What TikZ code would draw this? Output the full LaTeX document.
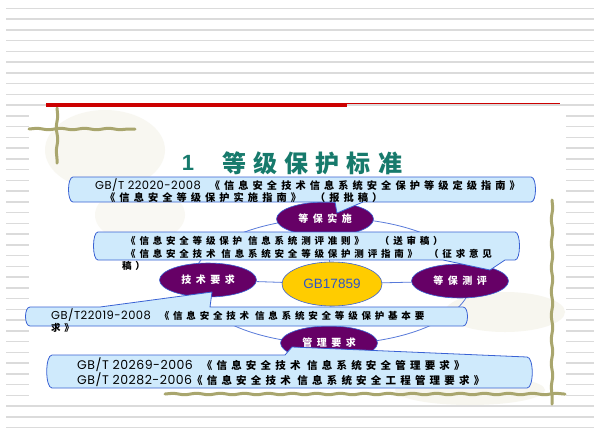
\documentclass[tikz,border=0pt]{standalone}
\usepackage{fontspec}
\setmainfont{Liberation Sans}
\newfontfamily\zhf[LetterSpace=40]{Noto Sans CJK SC}
\newfontfamily\zhb[LetterSpace=45]{Noto Sans CJK SC}
\newfontfamily\zhtitle[LetterSpace=30]{Noto Sans CJK SC}
\newfontfamily\geof[LetterSpace=4]{Poppins}
\usetikzlibrary{shapes.geometric}
\usetikzlibrary{decorations.pathmorphing}
\usetikzlibrary{positioning}

\definecolor{plum}{HTML}{660066}
\definecolor{callfill}{HTML}{CFEAFC}
\definecolor{callline}{HTML}{3A62D4}
\definecolor{titleteal}{HTML}{177A6C}
\definecolor{stdyel}{HTML}{FFCC00}
\definecolor{stdtxt}{HTML}{2E55C6}
\definecolor{bamboo}{HTML}{A9A66E}
\definecolor{redbar}{HTML}{CC0000}
\definecolor{wash}{HTML}{E9E6D2}

% latin part of a standard number
\newcommand{\gbno}[2][11.5]{{\mdseries\geof\fontsize{#1}{12}\selectfont #2}}

\tikzset{
  bgline/.style={draw=gray!28, line width=1.6pt},
  stick/.style={draw=bamboo, line width=3pt, line cap=round, decorate,
    decoration={snake, segment length=24pt, amplitude=0.7pt}},
  topic/.style={ellipse, draw=callline, line width=0.6pt, fill=plum, text=white,
    font=\zhb\bfseries\fontsize{10}{12}\selectfont,
    minimum width=97pt, minimum height=34pt, inner sep=0pt},
  ringline/.style={draw=callline!85, line width=0.8pt},
  callbox/.style={draw=callline, line width=0.8pt, fill=callfill},
  calltext/.style={anchor=west, inner sep=0pt, align=left, text=black},
}

\begin{document}
\begin{tikzpicture}[x=1pt,y=-1pt]
  \useasboundingbox (0,0) rectangle (594,437);

  % ruled page background
  \foreach \k in {0,...,39}
    \draw[bgline] (6,8.3+10.75*\k) -- (594,8.3+10.75*\k);

  % slide panel
  \fill[white] (29,108) rectangle (566,405);
  \fill[wash, opacity=0.3] (105,150) ellipse [x radius=60, y radius=40];
  \fill[wash, opacity=0.25] (140,215) ellipse [x radius=45, y radius=28];
  \fill[wash, opacity=0.35] (505,312) ellipse [x radius=60, y radius=20];
  \fill[wash, opacity=0.35] (470,390) ellipse [x radius=75, y radius=15];

  % bamboo frame
  \draw[stick] (57,108) -- (57,163);
  \draw[stick] (29,129) -- (135,129);
  \draw[stick] (552,200) -- (552,404);
  \draw[stick] (165,394) -- (565,394);

  % header bar
  \fill[redbar] (46,103) rectangle (347,107);
  \draw[redbar, line width=0.8pt] (347,103.5) -- (560,103.5);

  % title
  \node[text=titleteal, font=\bfseries\fontsize{22}{24}\selectfont] (num) at (188,163) {1};
  \node[anchor=west, inner sep=0pt, text=titleteal,
        font=\zhtitle\bfseries\fontsize{24}{26}\selectfont] (ttl) at (222,163) {等级保护标准};

  % ring through the four topics
  \draw[ringline] (332,281) ellipse [x radius=139, y radius=63];

  % centre standard and topics
  \node[ellipse, draw=callline, line width=0.6pt, fill=stdyel, text=stdtxt,
        minimum width=100pt, minimum height=44pt, inner sep=0pt,
        font=\fontsize{13.5}{15}\selectfont] (std) at (332,284) {GB17859};
  \node[topic] (shi) at (325,219) {等保实施};
  \node[topic] (jishu) at (208,280) {技术要求};
  \node[topic] (ceping) at (460,281) {等保测评};
  \node[topic] (guanli) at (329,343) {管理要求};

  \draw[ringline] (std) -- (shi);
  \draw[ringline] (std) -- (jishu);
  \draw[ringline] (std) -- (ceping);
  \draw[ringline] (std) -- (guanli);

  % callout tips
  \coordinate (tip1) at (337,213);
  \coordinate (tip2) at (490,270);
  \coordinate (tip3) at (212,292);
  \coordinate (tip4) at (292,347);

  % callout 1
  \draw[callbox] (73,177) -- (531,177) .. controls (537,177) and (537,202) .. (531,202)
    -- (363,202) -- (tip1) -- (335,202) -- (73,202) .. controls (67,202) and (67,177) .. cycle;
  \node[calltext, font=\zhf\bfseries\fontsize{10.2}{10.5}\selectfont] (c1) at (95,191)
    {\gbno{GB/T 22020-2008}\hspace{9pt}《信息安全技术信息系统安全保护等级定级指南》\\
     \hspace*{10pt}《信息安全等级保护实施指南》\hspace{14pt}（报批稿）};

  % callout 2
  \draw[callbox] (98,232) -- (515,232) .. controls (521,232) and (521,260) .. (515,260)
    -- (505,260) -- (tip2) -- (443,260) -- (98,260) .. controls (92,260) and (92,232) .. cycle;
  \node[calltext, font=\zhf\bfseries\fontsize{9.5}{12.5}\selectfont] (c2) at (122,253.5)
    {\hspace*{4pt}《信息安全等级保护 信息系统测评准则》\hspace{16pt}（送审稿）\\
     \hspace*{4pt}《信息安全技术 信息系统安全等级保护测评指南》\hspace{12pt}（征求意见\\
     稿）};

  % callout 3
  \draw[callbox] (30,307) -- (100,307) -- (tip3) -- (210,307) -- (463,307)
    .. controls (469,307) and (469,326) .. (463,326) -- (30,326)
    .. controls (24,326) and (24,307) .. cycle;
  \node[calltext, font=\zhf\bfseries\fontsize{9.5}{12}\selectfont] (c3) at (51,321)
    {\gbno{GB/T22019-2008}\hspace{9pt}《信息安全技术 信息系统安全等级保护基本要\\
     求》};

  % callout 4
  \draw[callbox] (52,355) -- (285,355) -- (tip4) -- (527,357)
    .. controls (534,357) and (534,388) .. (527,388) -- (52,388)
    .. controls (45,388) and (45,355) .. cycle;
  \node[calltext, font=\zhf\bfseries\fontsize{10.5}{13}\selectfont] (c4) at (77,372.5)
    {\gbno[12.5]{GB/T 20269-2006}\hspace{9pt}《信息安全技术 信息系统安全管理要求》\\
     \gbno[12.5]{GB/T 20282-2006}《信息安全技术 信息系统安全工程管理要求》};
\end{tikzpicture}
\end{document}
